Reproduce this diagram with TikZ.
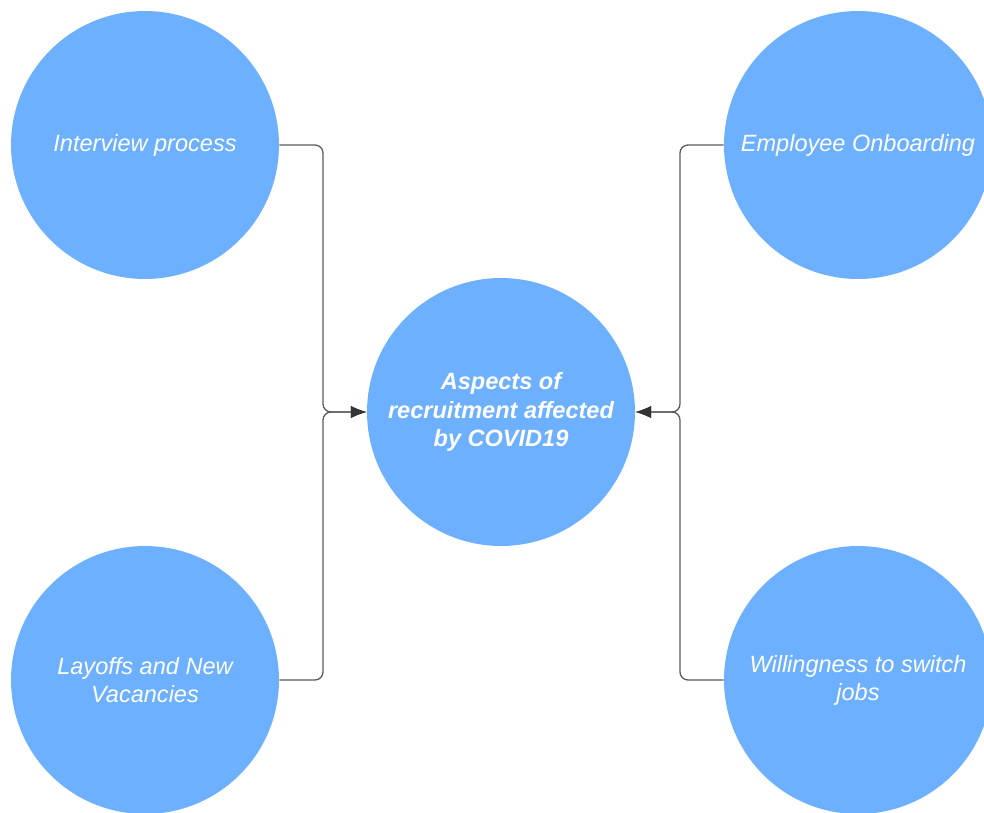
\documentclass[tikz,border=0pt]{standalone}
\usepackage{fontspec}
\setmainfont{Liberation Sans}
\usepackage{tikz}
\usetikzlibrary{arrows.meta}

\definecolor{bubble}{HTML}{6CB0FF}
\definecolor{wire}{HTML}{5A5A5F}

\begin{document}
\begin{tikzpicture}[x=0.02cm,y=-0.02cm,
  bubble/.style={circle,fill=bubble,minimum size=5.36cm,inner sep=0pt,align=center,
    text=white,font=\fontsize{13.4pt}{15.9pt}\selectfont\itshape},
  hub/.style={bubble,font=\fontsize{13.4pt}{16.2pt}\selectfont\bfseries\itshape},
  wire/.style={draw=wire,line width=0.75pt,rounded corners=0.16cm,-{Latex[length=9pt,width=7pt,color=black!80]}}]
\useasboundingbox (0,0) rectangle (984,812);
\clip (0,0) rectangle (984,812);
\node[hub] (c) at (501,412) {Aspects of\\recruitment affected\\by COVID19};
\node[bubble] (tl) at (145,145) {Interview process};
\node[bubble] (bl) at (145,680) {Layoffs and New\\Vacancies};
\node[bubble] (tr) at (858,145) {Employee Onboarding};
\node[bubble] (br) at (858,680) {Willingness to switch\\jobs};
\coordinate (jl) at (323,412);
\coordinate (jr) at (680,412);
\draw[wire] (tl.east) -| (jl) -- (c.west);
\draw[wire] (bl.east) -| (jl) -- (c.west);
\draw[wire] (tr.west) -| (jr) -- (c.east);
\draw[wire] (br.west) -| (jr) -- (c.east);
\end{tikzpicture}
\end{document}
